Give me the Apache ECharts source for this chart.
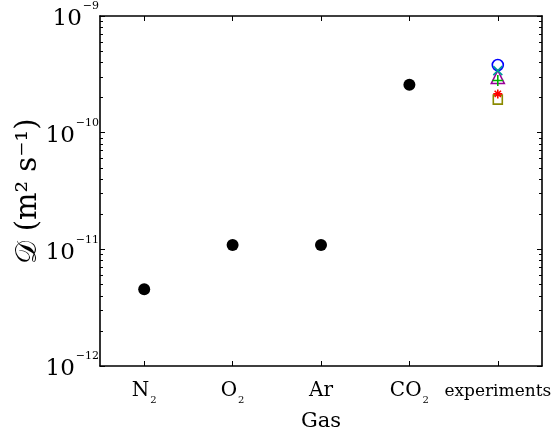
<!DOCTYPE html>
<html><head><meta charset="utf-8">
<script src="https://cdn.jsdelivr.net/npm/echarts@6/dist/echarts.min.js"></script>
<style>html,body{margin:0;padding:0;background:#fff}#c{width:555px;height:437px}</style>
</head><body><div id="c"></div>
<script>
const categories = ['N2', 'O2', 'Ar', 'CO2', 'experiments'];
const simValues = [4.55e-12, 1.09e-11, 1.09e-11, 2.57e-10];
const expBlueCircle = [3.8e-10];
const expTealX = [3.4e-10];
const expPurpleTriangle = [3.0e-10];
const expGreenPlus = [2.8e-10];
const expRedStar = [2.15e-10];
const expOliveSquare = [1.92e-10];
const majorTicks = [1e-12, 1e-11, 1e-10, 1e-9];
const minorMult = [2, 3, 4, 5, 6, 7, 8, 9];

const minorTicks = [];
[1e-12, 1e-11, 1e-10].forEach(d => minorMult.forEach(m => minorTicks.push(m * d)));
const minorTicksLog = minorTicks.map(v => Math.log10(v));
const logMin = Math.log10(majorTicks[0]);
const logMax = Math.log10(majorTicks[majorTicks.length - 1]);

const FONT = 'DejaVu Serif';
const chart = echarts.init(document.getElementById('c'), null, {renderer: 'canvas'});

function expLabel(v) {
  const e = Math.round(Math.log10(v));
  return '{b|10}{e|\u2212' + (-e) + '}';
}
function catLabel(v) {
  if (v === 'experiments') return '{x|experiments}';
  const m = v.match(/^([A-Za-z]+)(\d)$/);
  if (!m) return '{b|' + v + '}';
  return '{b|' + m[1] + '}{s|' + m[2] + '}';
}

function mainY(pos, showLabel) {
  return {
    type: 'log', logBase: 10, min: majorTicks[0], max: majorTicks[majorTicks.length - 1], position: pos,
    axisLine: {show: true, onZero: false, lineStyle: {color: '#000', width: 1.6}},
    splitLine: {show: false},
    axisTick: {show: true, inside: true, length: 5, lineStyle: {color: '#000', width: 1}},
    axisLabel: showLabel ? {
      show: true, margin: 1, formatter: expLabel,
      rich: {
        b: {fontFamily: FONT, fontSize: 23, color: '#000', lineHeight: 30, verticalAlign: 'bottom'},
        e: {fontFamily: FONT, fontSize: 11, color: '#000', lineHeight: 30, verticalAlign: 'top', padding: [0, 0, 0, 1]}
      }
    } : {show: false}
  };
}
function minorY(pos) {
  return {
    type: 'value', min: logMin, max: logMax, position: pos,
    axisLine: {show: true, onZero: false, lineStyle: {color: 'rgba(0,0,0,0)'}}, splitLine: {show: false}, axisLabel: {show: false},
    axisTick: {show: true, inside: true, length: 3, customValues: minorTicksLog, lineStyle: {color: '#000', width: 1}}
  };
}

const yAxes = [
  Object.assign(mainY('left', true), {
    name: '\uD835\uDC9F (m\u00B2 s\u207B\u00B9)', nameLocation: 'middle', nameGap: 57, nameMoveOverlap: false,
    nameTextStyle: {fontFamily: FONT, fontSize: 29, color: '#000'}
  }),
  mainY('right', false),
  minorY('left'),
  minorY('right')
];

const xAxes = [
  {
    type: 'category', data: categories, position: 'bottom', boundaryGap: true,
    axisLine: {show: true, lineStyle: {color: '#000', width: 1.6}},
    axisTick: {show: true, inside: true, alignWithLabel: true, length: 5, lineStyle: {color: '#000', width: 1}},
    axisLabel: {
      margin: 15, formatter: catLabel, interval: 0,
      rich: {
        b: {fontFamily: FONT, fontSize: 20, color: '#000', lineHeight: 24, verticalAlign: 'top'},
        s: {fontFamily: FONT, fontSize: 10, color: '#000', lineHeight: 24, verticalAlign: 'bottom', padding: [0, 0, 0, 1]},
        x: {fontFamily: FONT, fontSize: 17, color: '#000', lineHeight: 24, verticalAlign: 'top', padding: [2, 0, 0, 0]}
      }
    },
    splitLine: {show: false},
    name: 'Gas', nameLocation: 'middle', nameGap: 45, nameMoveOverlap: false,
    nameTextStyle: {fontFamily: FONT, fontSize: 21, color: '#000'}
  },
  {
    type: 'category', data: categories, position: 'top', boundaryGap: true,
    axisLine: {show: true, lineStyle: {color: '#000', width: 1.6}},
    axisTick: {show: true, inside: true, alignWithLabel: true, length: 5, lineStyle: {color: '#000', width: 1}},
    axisLabel: {show: false}, splitLine: {show: false}
  }
];

function expSeries(vals, symbol, size, color, width) {
  return {
    type: 'scatter', xAxisIndex: 0, yAxisIndex: 0, symbol: symbol, symbolSize: size,
    data: vals.map(v => ['experiments', v]),
    itemStyle: {color: 'rgba(255,255,255,0)', borderColor: color, borderWidth: width, opacity: 1},
    z: 3
  };
}

const XPATH = 'path://M0,0L10,10M10,0L0,10';
const PLUS = 'path://M5,0L5,10M0,5L10,5';
const STAR = 'path://M5,0L5,10M0,5L10,5M1.5,1.5L8.5,8.5M8.5,1.5L1.5,8.5';

chart.setOption({
  animation: false,
  grid: {left: 100, right: 13, top: 16, bottom: 65, containLabel: false},
  xAxis: xAxes,
  yAxis: yAxes,
  series: [
    {
      type: 'scatter', xAxisIndex: 0, yAxisIndex: 0, symbol: 'circle', symbolSize: 12,
      data: simValues.map((v, i) => [categories[i], v]),
      itemStyle: {color: '#000', opacity: 1}
    },
    expSeries(expOliveSquare, 'rect', 9, '#8a8a00', 1.6),
    expSeries(expRedStar, STAR, 9, '#ff0000', 1.6),
    expSeries(expBlueCircle, 'circle', 11, '#0000ff', 1.6),
    expSeries(expPurpleTriangle, 'triangle', 13, '#9a009a', 1.6),
    expSeries(expTealX, XPATH, 9, '#009a9a', 1.6),
    expSeries(expGreenPlus, PLUS, 11, '#00b000', 1.6)
  ]
});
</script>
</body></html>
